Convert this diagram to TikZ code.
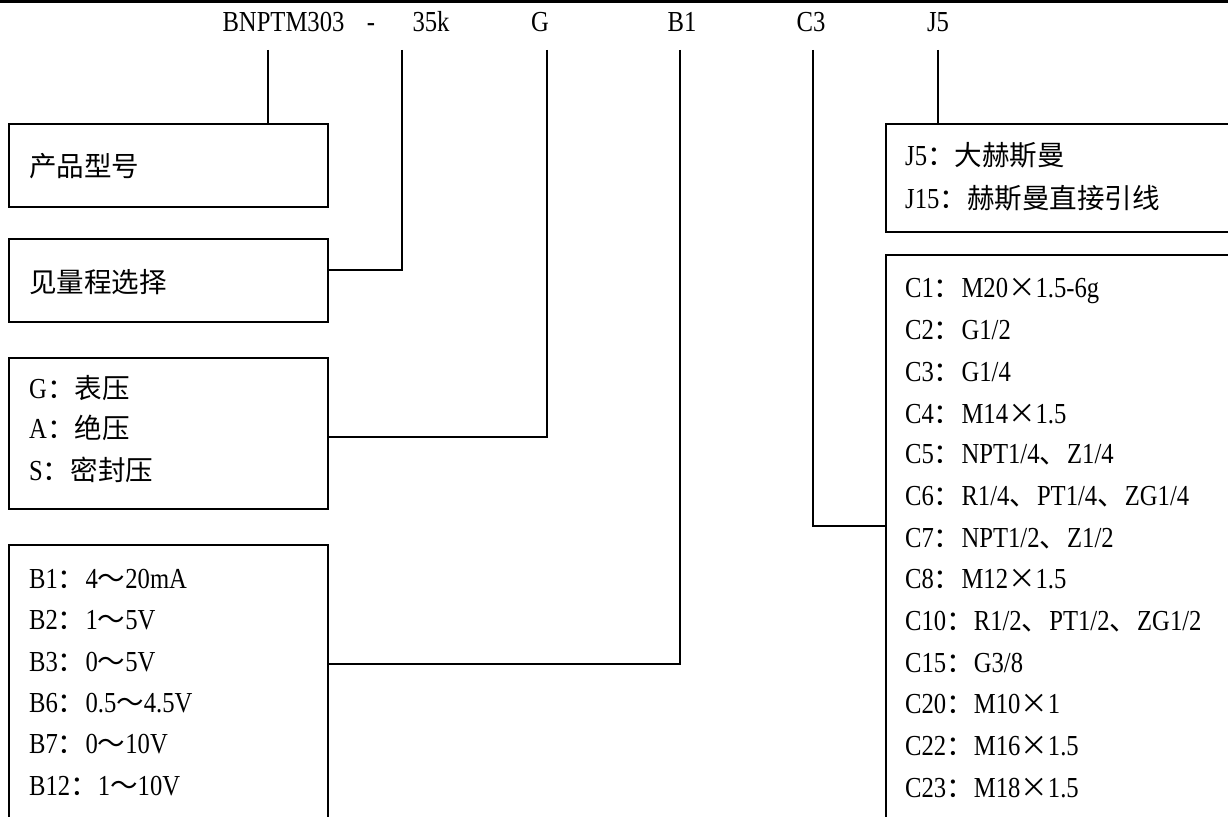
\documentclass[tikz,border=0pt]{standalone}
\usepackage{fontspec}
\setmainfont{Liberation Serif}[FakeStretch=0.85]
\newfontfamily\cjk{Noto Sans CJK SC}[Scale=0.95]
\newcommand\zh[1]{{\cjk #1}}
\begin{document}
\begin{tikzpicture}[x=1pt,y=-1pt,
  box/.style={draw, line width=1.6pt, rectangle, anchor=north west, inner sep=0pt},
  txt/.style={anchor=base west, inner sep=0pt, font=\fontsize{29}{35}\selectfont},
  hdr/.style={anchor=base, inner sep=0pt, font=\fontsize{29}{35}\selectfont},
  link/.style={line width=1.6pt}]
\useasboundingbox (0,0) rectangle (1228,816);
\clip (0,0) rectangle (1228,816);
% top rule
\draw[line width=3pt] (0,1.5) -- (1228,1.5);
% header
\node[hdr] (h1) at (283.5,32) {BNPTM303};
\node[hdr] (h2) at (371,32) {-};
\node[hdr] (h3) at (431,32) {35k};
\node[hdr] (h4) at (540,32) {G};
\node[hdr] (h5) at (682,32) {B1};
\node[hdr] (h6) at (811,32) {C3};
\node[hdr] (h7) at (938,32) {J5};
% boxes
\node[box, minimum width=319pt, minimum height=83pt] (b1) at (8,123) {};
\node[box, minimum width=319pt, minimum height=83pt] (b2) at (8,238) {};
\node[box, minimum width=319pt, minimum height=151pt] (b3) at (8,357) {};
\node[box, minimum width=319pt, minimum height=320pt] (b4) at (8,544) {};
\node[box, minimum width=400pt, minimum height=108pt] (bj) at (885,123) {};
\node[box, minimum width=400pt, minimum height=620pt] (bc) at (885,254) {};
% box texts
\node[txt] (p1) at (29,176) {\zh{产品型号}};
\node[txt] (p2) at (29,292) {\zh{见量程选择}};
\node[txt] (g1) at (29,398) {G\zh{：表压}};
\node[txt] (g2) at (29,438) {A\zh{：绝压}};
\node[txt] (g3) at (29,480) {S\zh{：密封压}};
\node[txt] (o1) at (29,588) {B1\zh{：}4\zh{～}20mA};
\node[txt] (o2) at (29,629) {B2\zh{：}1\zh{～}5V};
\node[txt] (o3) at (29,671) {B3\zh{：}0\zh{～}5V};
\node[txt] (o4) at (29,712) {B6\zh{：}0.5\zh{～}4.5V};
\node[txt] (o5) at (29,753) {B7\zh{：}0\zh{～}10V};
\node[txt] (o6) at (29,795) {B12\zh{：}1\zh{～}10V};
\node[txt] (j1) at (905,165) {J5\zh{：大赫斯曼}};
\node[txt] (j2) at (905,208) {J15\zh{：赫斯曼直接引线}};
\node[txt] (c1) at (905,297) {C1\zh{：}M20\zh{×}1.5-6g};
\node[txt] (c2) at (905,339) {C2\zh{：}G1/2};
\node[txt] (c3) at (905,381) {C3\zh{：}G1/4};
\node[txt] (c4) at (905,423) {C4\zh{：}M14\zh{×}1.5};
\node[txt] (c5) at (905,463) {C5\zh{：}NPT1/4\zh{、}Z1/4};
\node[txt] (c6) at (905,505) {C6\zh{：}R1/4\zh{、}PT1/4\zh{、}ZG1/4};
\node[txt] (c7) at (905,547) {C7\zh{：}NPT1/2\zh{、}Z1/2};
\node[txt] (c8) at (905,588) {C8\zh{：}M12\zh{×}1.5};
\node[txt] (c9) at (905,630) {C10\zh{：}R1/2\zh{、}PT1/2\zh{、}ZG1/2};
\node[txt] (c10) at (905,672) {C15\zh{：}G3/8};
\node[txt] (c11) at (905,713) {C20\zh{：}M10\zh{×}1};
\node[txt] (c12) at (905,755) {C22\zh{：}M16\zh{×}1.5};
\node[txt] (c13) at (905,797) {C23\zh{：}M18\zh{×}1.5};
% connectors
\coordinate (t1) at (268,50);
\coordinate (t2) at (402,50);
\coordinate (t3) at (547,50);
\coordinate (t4) at (680,50);
\coordinate (t5) at (813,50);
\coordinate (t6) at (938,50);
\coordinate (k2) at (402,270);
\coordinate (k3) at (547,437);
\coordinate (k4) at (680,664);
\coordinate (k5) at (813,526);
\draw[link] (t1) -- (t1 |- b1.north);
\draw[link] (t2) |- (b2.east |- k2);
\draw[link] (t3) |- (b3.east |- k3);
\draw[link] (t4) |- (b4.east |- k4);
\draw[link] (t5) |- (bc.west |- k5);
\draw[link] (t6) -- (t6 |- bj.north);
\end{tikzpicture}
\end{document}
